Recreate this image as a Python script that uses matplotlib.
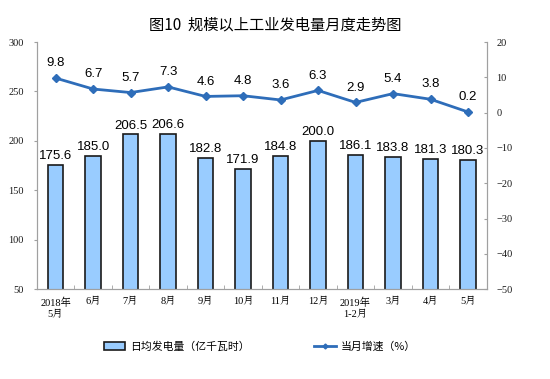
import matplotlib.pyplot as plt
from matplotlib.lines import Line2D
from matplotlib.patches import Patch

plt.rcParams['font.family'] = ['Liberation Sans', 'Noto Sans CJK SC']

months = ['2018年\n5月', '6月', '7月', '8月', '9月', '10月', '11月', '12月',
          '2019年\n1-2月', '3月', '4月', '5月']
daily_output = [175.6, 185.0, 206.5, 206.6, 182.8, 171.9, 184.8, 200.0,
                186.1, 183.8, 181.3, 180.3]
growth = [9.8, 6.7, 5.7, 7.3, 4.6, 4.8, 3.6, 6.3, 2.9, 5.4, 3.8, 0.2]

bar_color = '#99CCFF'
line_color = '#2E6DB9'
axis_color = '#A0A0A0'
tick_font = ['Liberation Serif', 'Noto Serif CJK SC', 'Noto Sans CJK SC']

fig = plt.figure(figsize=(5.5, 3.79), dpi=100)
ax = fig.add_axes([0.067, 0.237, 0.818, 0.652])
ax2 = ax.twinx()

x = list(range(len(months)))
ax.bar(x, daily_output, width=0.42, color=bar_color, edgecolor='#1A1A1A',
       linewidth=1.2, zorder=2)
for xi, v in zip(x, daily_output):
    ax.text(xi, v + 3, f'{v:.1f}', ha='center', va='bottom', fontsize=9.5)

ax.set_ylim(50, 300)
ax.set_yticks(range(50, 301, 50))
ax.set_xlim(-0.5, len(months) - 0.5)
ax.set_xticks(x)
ax.set_xticklabels(months, fontsize=7.5, family=tick_font, linespacing=1.3)
ax.set_xticks([i + 0.5 for i in x[:-1]], minor=True)
ax.tick_params(axis='x', which='major', length=0, pad=6)
ax.tick_params(axis='x', which='minor', length=3, direction='in', color=axis_color)
for lab in ax.get_yticklabels():
    lab.set_family(tick_font)
    lab.set_fontsize(7.5)

ax2.plot(x, growth, color=line_color, linewidth=2, marker='D', markersize=4.5,
         zorder=3)
for xi, v in zip(x, growth):
    ax2.text(xi, v + 2.5, f'{v:.1f}', ha='center', va='bottom', fontsize=9.5)
ax2.set_ylim(-50, 20)
ax2.set_yticks(range(-50, 21, 10))
for lab in ax2.get_yticklabels():
    lab.set_family(tick_font)
    lab.set_fontsize(7.5)

for a in (ax, ax2):
    a.spines['top'].set_visible(False)
    for s in ('left', 'right', 'bottom'):
        a.spines[s].set_color(axis_color)
ax.tick_params(axis='y', colors='#1A1A1A', length=2.5, color=axis_color,
               direction='out', pad=7)
ax2.tick_params(axis='y', colors='#1A1A1A', length=2.5, color=axis_color,
                direction='in', pad=7)

fig.text(0.5, 0.935, '图10  规模以上工业发电量月度走势图', ha='center', va='center',
         fontsize=11, family=['Noto Sans CJK SC'])

handles = [Patch(facecolor=bar_color, edgecolor='#1A1A1A', linewidth=1.2),
           Line2D([0], [0], color=line_color, linewidth=2, marker='D', markersize=2.5)]
labels = ['日均发电量（亿千瓦时）', '当月增速（%）']
fig.legend(handles, labels, loc='center', bbox_to_anchor=(0.472, 0.085), ncol=2,
           frameon=False, columnspacing=6.0, handlelength=2.0, handletextpad=0.4,
           prop={'family': ['Noto Sans CJK SC'], 'size': 7.8})

fig.savefig('out.png', dpi=100)
